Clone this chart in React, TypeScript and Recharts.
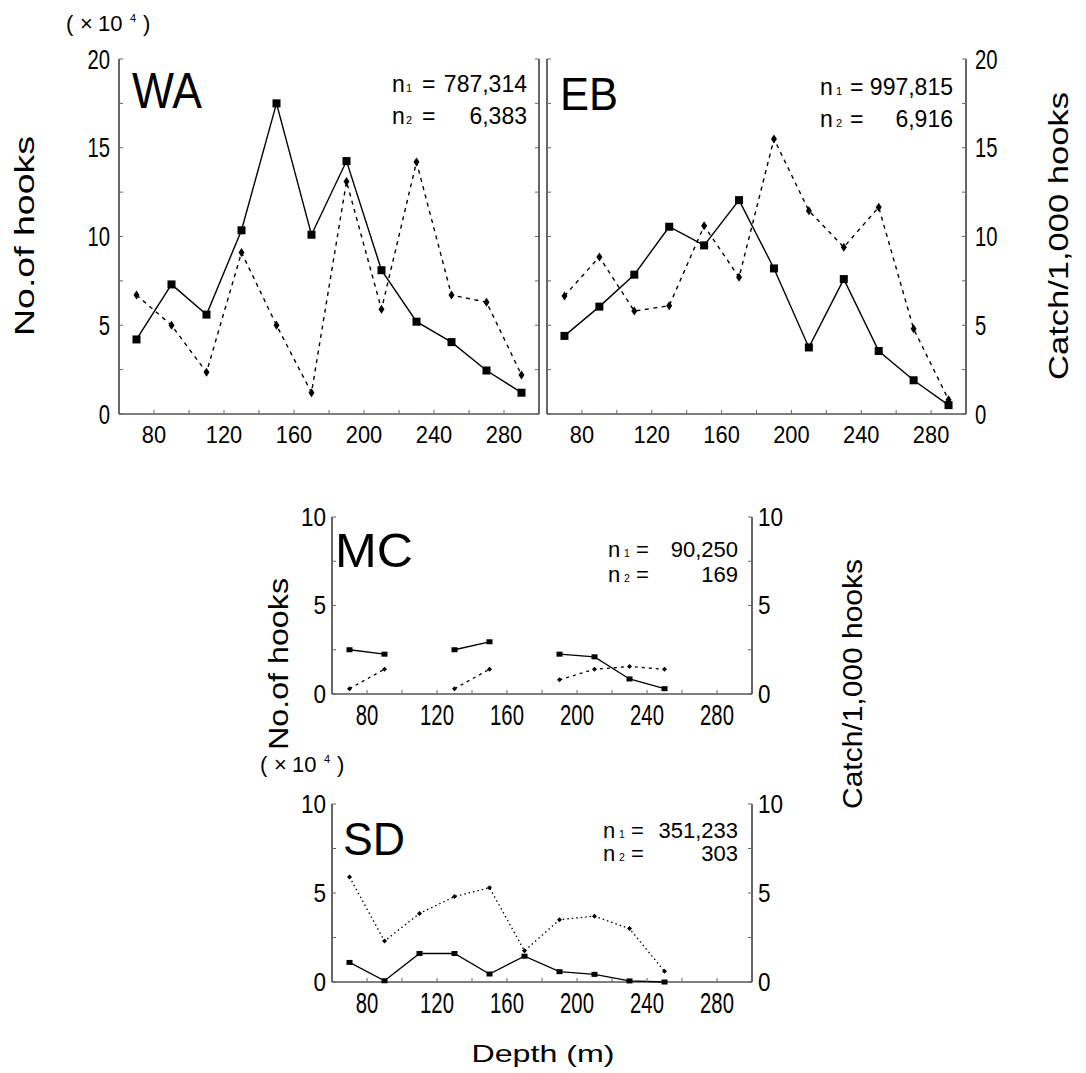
import React from 'react';
import { LineChart, Line, XAxis, YAxis } from 'recharts';

// ---------- data ----------
const depths = [70, 90, 110, 130, 150, 170, 190, 210, 230, 250, 270, 290];
const xTicks = [80, 100, 120, 140, 160, 180, 200, 220, 240, 260, 280];
const xLabelTicks = [80, 120, 160, 200, 240, 280];
const topYTicks = [0, 2.5, 5, 7.5, 10, 12.5, 15, 17.5, 20];
const topYLabels = [0, 5, 10, 15, 20];
const botYTicks = [0, 2.5, 5, 7.5, 10];
const botYLabels = [0, 5, 10];

// No. of hooks (x10^4) - solid line, squares
const waHooks = [4.2, 7.3, 5.6, 10.35, 17.5, 10.1, 14.25, 8.1, 5.2, 4.05, 2.45, 1.2];
// Catch / 1,000 hooks - dashed line, diamonds
const waCatch = [6.7, 5.0, 2.35, 9.1, 5.0, 1.2, 13.1, 5.9, 14.2, 6.7, 6.3, 2.2];

const ebHooks = [4.4, 6.05, 7.85, 10.55, 9.5, 12.05, 8.2, 3.75, 7.6, 3.55, 1.9, 0.5];
const ebCatch = [6.65, 8.85, 5.8, 6.1, 10.6, 7.7, 15.5, 11.45, 9.4, 11.65, 4.8, 0.8];

const mcHooks = [2.5, 2.25, null, 2.5, 2.95, null, 2.25, 2.1, 0.85, 0.3, null, null];
const mcCatch = [0.3, 1.4, null, 0.3, 1.4, null, 0.8, 1.4, 1.55, 1.4, null, null];

const sdHooks = [1.1, 0.07, 1.6, 1.6, 0.45, 1.45, 0.58, 0.43, 0.06, 0, null, null];
const sdCatch = [5.9, 2.3, 3.85, 4.8, 5.3, 1.75, 3.5, 3.7, 3.0, 0.6, null, null];

const FONT = "'Liberation Sans', Arial, Helvetica, sans-serif";

// ---------- helpers ----------
const squareDot = (w: number, h: number) => (props: any) => {
  const { cx, cy, index, value } = props;
  if (cx == null || cy == null || value == null || isNaN(cy)) return <g key={`s${index}`} />;
  return <rect key={`s${index}`} x={cx - w / 2} y={cy - h / 2} width={w} height={h} fill="#000" />;
};

const diamondDot = (w: number, h: number) => (props: any) => {
  const { cx, cy, index, value } = props;
  if (cx == null || cy == null || value == null || isNaN(cy)) return <g key={`d${index}`} />;
  return (
    <path
      key={`d${index}`}
      d={`M${cx},${cy - h / 2}L${cx + w / 2},${cy}L${cx},${cy + h / 2}L${cx - w / 2},${cy}Z`}
      fill="#000"
    />
  );
};

const renderXTick = (fs: number, sx: number) => (props: any) => {
  const { x, y, payload } = props;
  if (!xLabelTicks.includes(payload.value)) return <g />;
  const base = y + fs * 0.716;
  return (
    <g transform={`translate(${x},${base}) scale(${sx},1)`}>
      <text x={0} y={0} textAnchor="middle" fontSize={fs} fontFamily={FONT} fill="#000">
        {payload.value}
      </text>
    </g>
  );
};

const renderYTick = (labels: number[], fs: number, sx: number, anchor: 'start' | 'end', show: boolean) => (props: any) => {
  const { x, y, payload } = props;
  if (!show || !labels.includes(payload.value)) return <g />;
  const base = y + fs * 0.358;
  return (
    <g transform={`translate(${x},${base}) scale(${sx},1)`}>
      <text x={0} y={0} textAnchor={anchor} fontSize={fs} fontFamily={FONT} fill="#000">
        {payload.value}
      </text>
    </g>
  );
};

const emptyTick = () => <g />;

type PanelCfg = {
  plotLeft: number;
  plotTop: number;
  plotW: number;
  plotH: number;
  yMax: number;
  yTicks: number[];
  yLabels: number[];
  hooks: (number | null)[];
  catches: (number | null)[];
  leftLabels: boolean;
  rightLabels: boolean;
  xFs: number;
  xSx: number;
  xGap: number;
  yFs: number;
  ySx: number;
  yGap: number;
  sq: [number, number];
  dm: [number, number];
  dash: string;
  lw: number;
};

function Panel({ cfg }: { cfg: PanelCfg }) {
  const M = 60;
  const MT = 22;
  const XH = 50;
  const rows = depths.map((d, i) => ({ depth: d, hooks: cfg.hooks[i], catch: cfg.catches[i] }));
  const axisLine = { stroke: '#000', strokeWidth: 1.2 };
  const tickLine = { stroke: '#666', strokeWidth: 1 };
  return (
    <div style={{ position: 'absolute', left: cfg.plotLeft - M, top: cfg.plotTop - MT }}>
      <LineChart
        width={cfg.plotW + 2 * M}
        height={cfg.plotH + MT + XH}
        data={rows}
        margin={{ top: MT, right: 0, bottom: 0, left: 0 }}
      >
        <XAxis
          xAxisId="b"
          dataKey="depth"
          type="number"
          domain={[60, 300]}
          ticks={xTicks}
          interval={0}
          height={XH}
          tickSize={-4}
          tickMargin={cfg.xGap + 4}
          axisLine={axisLine}
          tickLine={tickLine}
          tick={renderXTick(cfg.xFs, cfg.xSx)}
        />
        <XAxis
          xAxisId="t"
          orientation="top"
          dataKey="depth"
          type="number"
          domain={[60, 300]}
          ticks={xTicks}
          interval={0}
          height={0}
          tickSize={-4}
          axisLine={axisLine}
          tickLine={tickLine}
          tick={emptyTick}
        />
        <YAxis
          yAxisId="l"
          type="number"
          domain={[0, cfg.yMax]}
          ticks={cfg.yTicks}
          interval={0}
          width={M}
          tickSize={-4}
          tickMargin={cfg.yGap + 4}
          axisLine={axisLine}
          tickLine={tickLine}
          tick={renderYTick(cfg.yLabels, cfg.yFs, cfg.ySx, 'end', cfg.leftLabels)}
        />
        <YAxis
          yAxisId="r"
          orientation="right"
          type="number"
          domain={[0, cfg.yMax]}
          ticks={cfg.yTicks}
          interval={0}
          width={M}
          tickSize={-4}
          tickMargin={cfg.yGap + 4}
          axisLine={axisLine}
          tickLine={tickLine}
          tick={renderYTick(cfg.yLabels, cfg.yFs, cfg.ySx, 'start', cfg.rightLabels)}
        />
        <Line
          xAxisId="b"
          yAxisId="l"
          dataKey="hooks"
          type="linear"
          stroke="#000"
          strokeWidth={cfg.lw}
          dot={squareDot(cfg.sq[0], cfg.sq[1])}
          activeDot={false}
          connectNulls={false}
          isAnimationActive={false}
        />
        <Line
          xAxisId="b"
          yAxisId="r"
          dataKey="catch"
          type="linear"
          stroke="#000"
          strokeWidth={cfg.lw}
          strokeDasharray={cfg.dash}
          dot={diamondDot(cfg.dm[0], cfg.dm[1])}
          activeDot={false}
          connectNulls={false}
          isAnimationActive={false}
        />
      </LineChart>
    </div>
  );
}

const topCommon = {
  plotTop: 59,
  plotH: 355,
  yMax: 20,
  yTicks: topYTicks,
  yLabels: topYLabels,
  xFs: 23,
  xSx: 0.95,
  xGap: 13,
  yFs: 27,
  ySx: 0.75,
  yGap: 9,
  sq: [8, 8] as [number, number],
  dm: [6, 9] as [number, number],
  dash: '4 4.5',
  lw: 1.4,
};

const botCommon = {
  plotW: 420,
  yMax: 10,
  yTicks: botYTicks,
  yLabels: botYLabels,
  leftLabels: true,
  rightLabels: true,
  xFs: 29,
  xSx: 0.7,
  xGap: 10,
  yFs: 25,
  ySx: 0.9,
  yGap: 6,
  sq: [6, 5] as [number, number],
  dm: [5, 5] as [number, number],
  lw: 1.3,
};

const waCfg: PanelCfg = { ...topCommon, plotLeft: 119, plotW: 420, hooks: waHooks, catches: waCatch, leftLabels: true, rightLabels: false };
const ebCfg: PanelCfg = { ...topCommon, plotLeft: 547, plotW: 419, hooks: ebHooks, catches: ebCatch, leftLabels: false, rightLabels: true };
const mcCfg: PanelCfg = { ...botCommon, plotLeft: 332, plotTop: 517, plotH: 177, hooks: mcHooks, catches: mcCatch, dash: '3 4' };
const sdCfg: PanelCfg = { ...botCommon, plotLeft: 332, plotTop: 804, plotH: 178, hooks: sdHooks, catches: sdCatch, dash: '1.5 3' };

function NLabel({ x, base1, base2, sub, eq, right, v1, v2, fs }: any) {
  return (
    <g fontFamily={FONT} fill="#000">
      <text x={x} y={base1} fontSize={fs}>n</text>
      <text x={sub} y={base1} fontSize={fs * 0.48}>1</text>
      <text x={eq} y={base1} fontSize={fs}>=</text>
      <text x={right} y={base1} fontSize={fs} textAnchor="end">{v1}</text>
      <text x={x} y={base2} fontSize={fs}>n</text>
      <text x={sub} y={base2} fontSize={fs * 0.48}>2</text>
      <text x={eq} y={base2} fontSize={fs}>=</text>
      <text x={right} y={base2} fontSize={fs} textAnchor="end">{v2}</text>
    </g>
  );
}

function Times({ x, y }: { x: number; y: number }) {
  return (
    <g fontFamily={FONT} fill="#000">
      <text x={x} y={y} fontSize={22}>(</text>
      <text x={x + 14} y={y} fontSize={22}>×</text>
      <text x={x + 32} y={y} fontSize={22}>10</text>
      <text x={x + 64} y={y - 9} fontSize={11}>4</text>
      <text x={x + 77} y={y} fontSize={22}>)</text>
    </g>
  );
}

function Overlay() {
  return (
    <svg width={1086} height={1073} style={{ position: 'absolute', left: 0, top: 0, pointerEvents: 'none' }}>
      <Times x={66} y={31} />
      <Times x={260} y={772} />

      <text transform="translate(34,236) rotate(-90)" textAnchor="middle" fontSize={28} fontFamily={FONT}
        textLength={200} lengthAdjust="spacingAndGlyphs">No.of hooks</text>
      <text transform="translate(1068,236) rotate(-90)" textAnchor="middle" fontSize={28} fontFamily={FONT}
        textLength={288} lengthAdjust="spacingAndGlyphs">Catch/1,000 hooks</text>
      <text transform="translate(288,664) rotate(-90)" textAnchor="middle" fontSize={28} fontFamily={FONT}
        textLength={172} lengthAdjust="spacingAndGlyphs">No.of hooks</text>
      <text transform="translate(862,684) rotate(-90)" textAnchor="middle" fontSize={28} fontFamily={FONT}
        textLength={250} lengthAdjust="spacingAndGlyphs">Catch/1,000 hooks</text>

      <text x={543} y={1062} textAnchor="middle" fontSize={24} fontFamily={FONT}
        textLength={143} lengthAdjust="spacingAndGlyphs">Depth (m)</text>

      <text x={132} y={108} fontSize={50} fontFamily={FONT} textLength={70} lengthAdjust="spacingAndGlyphs">WA</text>
      <text x={560} y={110} fontSize={46} fontFamily={FONT} textLength={58} lengthAdjust="spacingAndGlyphs">EB</text>
      <text x={335} y={567} fontSize={49} fontFamily={FONT} textLength={78} lengthAdjust="spacingAndGlyphs">MC</text>
      <text x={343} y={855} fontSize={46} fontFamily={FONT} textLength={62} lengthAdjust="spacingAndGlyphs">SD</text>

      <NLabel x={392} sub={406} eq={422} right={527} base1={92} base2={124} v1="787,314" v2="6,383" fs={23} />
      <NLabel x={820} sub={836} eq={850} right={953} base1={95} base2={127} v1="997,815" v2="6,916" fs={23} />
      <NLabel x={608} sub={624} eq={636} right={738} base1={557} base2={582} v1="90,250" v2="169" fs={22} />
      <NLabel x={603} sub={619} eq={631} right={738} base1={838} base2={861} v1="351,233" v2="303" fs={22} />
    </svg>
  );
}

export default function App() {
  return (
    <div style={{ position: 'absolute', left: 0, top: 0, width: 1086, height: 1073, background: '#fff', fontFamily: FONT }}>
      <Panel cfg={waCfg} />
      <Panel cfg={ebCfg} />
      <Panel cfg={mcCfg} />
      <Panel cfg={sdCfg} />
      <Overlay />
    </div>
  );
}
